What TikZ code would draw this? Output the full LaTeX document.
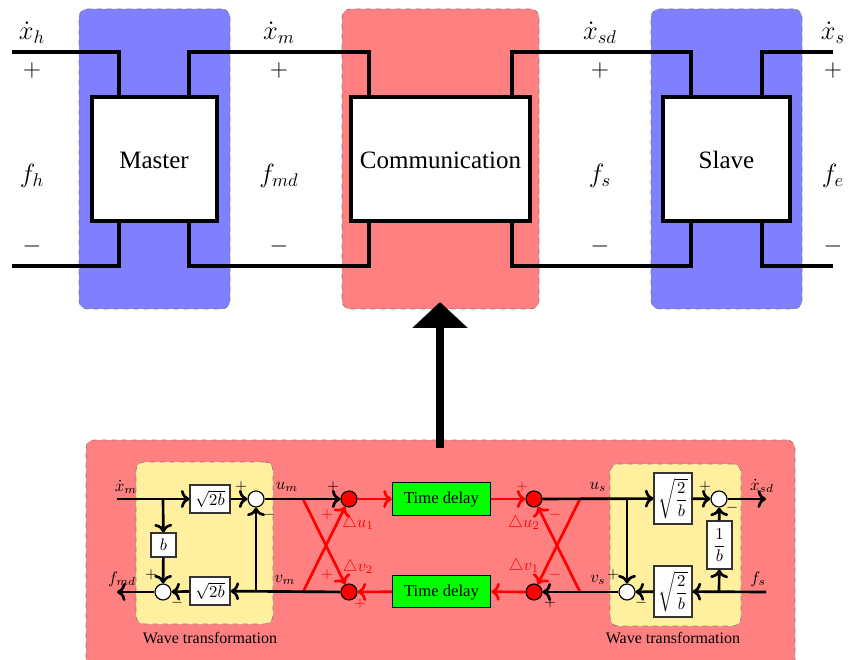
\documentclass[tikz,border=0pt]{standalone}
\usepackage{amsmath}
\usepackage[no-math]{fontspec}
\setmainfont{Liberation Serif}
\usetikzlibrary{arrows.meta}
\definecolor{paleyellow}{RGB}{255,240,160}
\tikzset{
	panel/.style={draw=gray, dashed, rounded corners=5pt, inner sep=0pt},
	plant/.style={draw=black, fill=white, line width=2.4pt, inner sep=0pt, minimum height=74.4pt, font=\fontsize{15}{18}\selectfont, text height=12pt, text depth=0pt},
	wire/.style={draw=black, line width=2.4pt},
	sig/.style={draw=black, line width=1.6pt, ->},
	redsig/.style={draw=red, line width=1.6pt, ->},
	block/.style={draw=black!80, fill=white, line width=0.7pt, inner sep=0pt},
	delay/.style={draw=black, fill=green, line width=0.7pt, inner sep=0pt, minimum width=59pt, minimum height=19.5pt, text height=7.5pt, text depth=2pt},
	sum/.style={circle, draw=black, fill=white, line width=0.7pt, inner sep=0pt, minimum size=9.6pt},
	redsum/.style={sum, fill=red},
	toplabel/.style={font=\Large, scale=1.1},
	topsign/.style={font=\Large},
	signlabel/.style={font=\small},
	redlabel/.style={text=red},
	wavelabel/.style={font=\fontsize{9.6}{11}\selectfont}
}
\begin{document}
\begin{tikzpicture}[x=0.6pt, y=-0.6pt]
	\useasboundingbox (0,0) rectangle (853,660);
	% top row, backgrounds
	\node[panel, fill=blue!50, minimum width=90.6pt, minimum height=180pt] (masterbg) at (154.5,159) {};
	\node[panel, fill=red!50, minimum width=118.2pt, minimum height=180pt] (commbg) at (440.5,159) {};
	\node[panel, fill=blue!50, minimum width=90.6pt, minimum height=180pt] (slavebg) at (726.5,159) {};
	\node[plant, minimum width=75pt] (master) at (154,159) {Master};
	\node[plant, minimum width=107.4pt] (comm) at (440.5,159) {Communication};
	\node[plant, minimum width=76.2pt] (slave) at (726.5,159) {Slave};
	% top row, port wires
	\foreach \n/\x in {ma/119, mb/189, ca/369, cb/512, sa/691, sb/762}{
		\coordinate (\n t) at (\x,97);
		\coordinate (\n b) at (\x,221);
	}
	\foreach \n/\x in {l/12, r/833}{
		\coordinate (\n t) at (\x,52);
		\coordinate (\n b) at (\x,266);
	}
	\foreach \p in {t,b}{
		\draw[wire] (l\p) -| (ma\p);
		\draw[wire] (mb\p) |- (ca\p |- l\p) -- (ca\p);
		\draw[wire] (cb\p) |- (sa\p |- l\p) -- (sa\p);
		\draw[wire] (sb\p) |- (r\p);
	}
	% top row, labels
	\foreach \n/\x/\vel/\force in {h/32/\dot{x}_h/f_h, m/279/\dot{x}_m/f_{md}, sd/600/\dot{x}_{sd}/f_s, s/833/\dot{x}_s/f_e}{
		\node[toplabel] (vel\n) at (\x,33) {$\vel$};
		\node[topsign] (plus\n) at (\x,71) {$+$};
		\node[toplabel] (force\n) at (\x,176) {$\force$};
		\node[topsign] (minus\n) at (\x,247) {$-$};
	}
	% lower panel
	\node[panel, fill=red!50, minimum width=425.4pt, minimum height=139.2pt] (wavebg) at (440.5,556) {};
	\node[panel, fill=paleyellow, minimum width=82.2pt, minimum height=97.2pt] (leftbg) at (204.5,543) {};
	\node[panel, fill=paleyellow, minimum width=78.6pt, minimum height=97.2pt] (rightbg) at (675.5,545) {};
	\coordinate (tail) at (440,448);
	\coordinate (tip) at (440,302);
	\draw[line width=4.4pt, -{Triangle[width=32.4pt,length=15.6pt]}] (tail) -- (tip);
	% lower panel, blocks
	\node[block, minimum width=24pt, minimum height=16.8pt] (rootl) at (210,499) {$\sqrt{2b}$};
	\node[block, minimum width=24pt, minimum height=16.8pt] (rootlb) at (210,591) {$\sqrt{2b}$};
	\node[block, minimum width=15pt, minimum height=14.4pt] (bbox) at (163.5,545) {$b$};
	\node[block, minimum width=22.8pt, minimum height=30.6pt] (rootr) at (673,498.5) {$\sqrt{\dfrac{2}{b}}$};
	\node[block, minimum width=22.8pt, minimum height=30.6pt] (rootrb) at (673,591.5) {$\sqrt{\dfrac{2}{b}}$};
	\node[block, minimum width=15pt, minimum height=28.8pt] (invb) at (719.5,545) {$\dfrac{1}{b}$};
	\node[delay] (delayt) at (441.5,499) {Time delay};
	\node[delay] (delayb) at (441.5,591.5) {Time delay};
	\node[sum] (suml) at (256,499) {};
	\node[sum] (sumlb) at (163,592) {};
	\node[sum] (sumr) at (719,499) {};
	\node[sum] (sumrb) at (627,592) {};
	\node[redsum] (redl) at (349,499) {};
	\node[redsum] (redlb) at (349,592) {};
	\node[redsum] (redr) at (534,499) {};
	\node[redsum] (redrb) at (534,592) {};
	% lower panel, free ends and branch points
	\coordinate (xmin) at (117,499);
	\coordinate (fmout) at (117,592);
	\coordinate (brl) at (163,499);
	\coordinate (brv) at (256,592);
	\coordinate (xsdout) at (766,499);
	\coordinate (fsin) at (766,592);
	\coordinate (brr) at (627,499);
	\coordinate (brf) at (719,592);
	\coordinate (crossa) at (303,499);
	\coordinate (crossb) at (303,592);
	\coordinate (crossc) at (580,499);
	\coordinate (crossd) at (580,592);
	% lower panel, red signals
	\draw[redsig] (crossa) -- (redlb);
	\draw[redsig] (crossb) -- (redl);
	\draw[redsig] (crossc) -- (redrb);
	\draw[redsig] (crossd) -- (redr);
	\draw[redsig] (redl) -- (delayt);
	\draw[redsig] (delayt) -- (redr);
	\draw[redsig] (redrb) -- (delayb);
	\draw[redsig] (delayb) -- (redlb);
	% lower panel, black signals
	\draw[sig] (xmin) -- (rootl);
	\draw[sig] (rootl) -- (suml);
	\draw[sig] (suml) -- (redl);
	\draw[sig] (brl) -- (bbox);
	\draw[sig] (bbox) -- (sumlb);
	\draw[sig] (redlb) -- (rootlb);
	\draw[sig] (brv) -- (suml);
	\draw[sig] (rootlb) -- (sumlb);
	\draw[sig] (sumlb) -- (fmout);
	\draw[sig] (redr) -- (rootr);
	\draw[sig] (rootr) -- (sumr);
	\draw[sig] (sumr) -- (xsdout);
	\draw[sig] (brr) -- (sumrb);
	\draw[sig] (fsin) -- (rootrb);
	\draw[sig] (rootrb) -- (sumrb);
	\draw[sig] (sumrb) -- (redrb);
	\draw[sig] (brf) -- (invb);
	\draw[sig] (invb) -- (sumr);
	% lower panel, labels
	\node (lxm) at (126,487) {$\dot{x}_m$};
	\node (lfmd) at (122,579) {$f_{md}$};
	\node (lum) at (287,487) {$u_m$};
	\node (lvm) at (285,580) {$v_m$};
	\node (lus) at (598,487) {$u_s$};
	\node (lvs) at (598,580) {$v_s$};
	\node (lxsd) at (762,486) {$\dot{x}_{sd}$};
	\node (lfs) at (758,579) {$f_s$};
	\node[signlabel] (pa) at (241,487) {$+$};
	\node[signlabel] (ma) at (269,515) {$-$};
	\node[signlabel] (pb) at (151,575) {$+$};
	\node[signlabel] (mb) at (177,603) {$-$};
	\node[signlabel] (pc) at (333,487) {$+$};
	\node[signlabel] (pd) at (550,603) {$+$};
	\node[signlabel] (pe) at (613,575) {$+$};
	\node[signlabel] (me) at (641,603) {$-$};
	\node[signlabel] (pf) at (705,487) {$+$};
	\node[signlabel] (mf) at (732,508) {$-$};
	\node[signlabel, redlabel] (rpa) at (327,515) {$+$};
	\node[signlabel, redlabel] (rpb) at (327,575) {$+$};
	\node[signlabel, redlabel] (rpc) at (360,604) {$+$};
	\node[signlabel, redlabel] (rpd) at (522,487) {$+$};
	\node[signlabel, redlabel] (rma) at (555,515) {$-$};
	\node[signlabel, redlabel] (rmb) at (555,575) {$-$};
	\node[redlabel] (du1) at (358,523) {$\triangle u_1$};
	\node[redlabel] (dv2) at (358,567) {$\triangle v_2$};
	\node[redlabel] (du2) at (524,523) {$\triangle u_2$};
	\node[redlabel] (dv1) at (524,566) {$\triangle v_1$};
	\node[wavelabel] (wavel) at (210,638) {Wave transformation};
	\node[wavelabel] (waver) at (673,638) {Wave transformation};
\end{tikzpicture}
\end{document}
